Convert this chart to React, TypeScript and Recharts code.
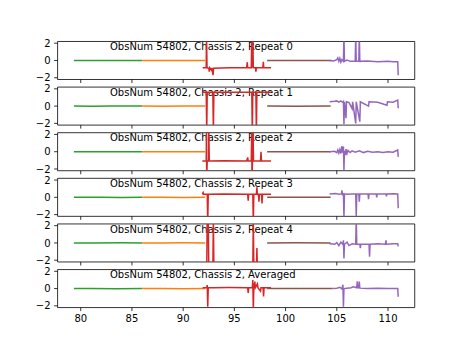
import React from 'react';
import { LineChart, Line, XAxis, YAxis, ReferenceArea } from 'recharts';

// ---------- data ----------
const labels = [
  'ObsNum 54802, Chassis 2, Repeat 0',
  'ObsNum 54802, Chassis 2, Repeat 1',
  'ObsNum 54802, Chassis 2, Repeat 2',
  'ObsNum 54802, Chassis 2, Repeat 3',
  'ObsNum 54802, Chassis 2, Repeat 4',
  'ObsNum 54802, Chassis 2, Averaged',
];
const xTicks = [80, 85, 90, 95, 100, 105, 110];
const yTicks = [-2, 0, 2];
const xDomain = [77.74, 112.61];
const yDomain = [-2.2, 2.2];

const green0 = [[79.33, 0], [81, 0.01], [83, -0.01], [84.5, 0.01], [86.0, 0]];
const orange0 = [[86.0, 0], [88, 0.01], [90, -0.01], [92.15, 0]];
const red0 = [[91.9, -0.85], [92.25, -0.85], [92.28, 3], [92.33, -0.85], [92.5, -0.9], [92.55, -1.3], [92.6, -0.85], [92.75, -1.1], [92.8, -0.85], [92.92, -1.7], [92.97, -0.9], [94.5, -0.85], [96.2, -0.85], [96.26, -0.2], [96.3, -0.85], [96.65, -0.85], [96.7, 3], [96.75, -0.85], [96.8, 3], [96.85, -0.85], [97.07, -0.85], [97.1, -1.3], [97.15, -0.85], [97.78, -0.85], [97.83, -0.15], [97.87, -0.85], [98.58, -0.85]];
const brown0 = [[98.2, 0], [101, 0.01], [104.5, 0]];
const purple0 = [[104.3, 0], [104.7, -0.05], [105.0, 0.1], [105.1, 0.3], [105.2, -0.1], [105.3, 0.25], [105.4, -0.2], [105.5, 0.1], [105.65, -0.1], [105.7, 3], [105.75, -0.1], [106.0, 0.05], [106.3, -0.1], [106.8, -0.1], [106.85, 3], [106.9, -0.1], [107.15, -0.1], [107.2, 3], [107.25, -0.1], [108, -0.05], [109, -0.15], [110, -0.1], [110.5, -0.15], [110.95, -0.15], [111.0, -1.7]];

const green1 = [[79.33, 0], [81, -0.01], [83, 0.01], [86.0, 0]];
const orange1 = [[86.0, 0], [88, -0.01], [90, 0.01], [92.15, 0]];
const red1 = [[91.9, 1.6], [92.25, 1.6], [92.3, -3], [92.35, 1.6], [92.9, 1.6], [92.95, -3], [93.0, 1.6], [96.7, 1.6], [96.75, -3], [96.8, 1.6], [97.1, 1.6], [97.15, -3], [97.2, 1.6], [98.58, 1.6]];
const brown1 = [[98.2, 0], [101, -0.01], [104.4, 0]];
const purple1 = [[104.3, 0.5], [104.8, 0.55], [105.0, 0.6], [105.2, 0.45], [105.4, 0.6], [105.6, 0.4], [105.65, 0.5], [105.7, -2.1], [105.75, 0.5], [105.9, -1.4], [105.95, 0.5], [106.2, 0.4], [106.5, -0.3], [106.55, 0.5], [106.85, -2.0], [106.9, 0.5], [107.25, -1.8], [107.3, 0.5], [108.1, 0.0], [108.15, 0.5], [109.0, 0.45], [109.9, 0.1], [109.95, 0.5], [110.5, 0.45], [110.95, 0.7], [111.0, -0.25]];

const green2 = [[79.33, 0], [81, 0.01], [84, -0.01], [86.0, 0]];
const orange2 = [[86.0, 0], [88.5, 0.01], [90.5, -0.01], [92.15, 0]];
const red2 = [[91.87, -1.08], [92.25, -1.08], [92.28, 3], [92.3, -3], [92.35, -1.08], [92.48, -1.08], [92.5, 3], [92.55, -1.08], [94, -1.05], [96.2, -1.08], [96.3, -0.65], [96.35, -1.08], [96.65, -1.08], [96.7, 3], [96.72, -3], [96.77, -1.08], [96.82, 3], [96.87, -1.08], [97.55, -1.08], [97.6, 0.0], [97.65, -1.08], [98.58, -1.08]];
const brown2 = [[98.2, 0], [101, 0.01], [104.4, 0]];
const purple2 = [[104.3, 0], [104.8, 0.05], [105.0, -0.1], [105.1, 0.2], [105.2, -0.15], [105.3, 0.25], [105.4, -0.2], [105.5, 0.65], [105.55, -0.1], [105.65, 0.6], [105.7, -2.1], [105.75, 0.1], [105.85, -0.4], [105.9, 0.3], [106.0, -0.2], [106.1, 0.15], [106.3, -0.1], [106.5, 0.1], [106.8, -0.05], [107.2, 0.1], [107.6, -0.1], [108, 0.05], [108.5, -0.05], [109, 0.0], [109.5, -0.1], [110, 0.0], [110.5, -0.05], [110.95, 0.2], [111.0, -0.6]];

const green3 = [[79.33, 0], [82, 0.01], [84, -0.01], [86.0, 0]];
const orange3 = [[86.0, 0], [88, 0.01], [90, -0.01], [92.15, 0]];
const red3 = [[91.87, 0.35], [91.95, 0.55], [92.0, 0.35], [92.35, 0.35], [92.4, -3], [92.45, 0.35], [94, 0.38], [96.3, 0.35], [96.35, -0.4], [96.4, 0.35], [96.8, 0.35], [96.85, -3], [96.9, 0.35], [97.15, 0.35], [97.2, 1.16], [97.25, 0.35], [97.35, 0.35], [97.4, -0.5], [97.45, 0.35], [97.65, 0.35], [97.7, -0.7], [97.75, 0.35], [98.58, 0.35]];
const brown3 = [[98.2, 0], [101, 0.01], [104.4, 0]];
const purple3 = [[104.3, 0.4], [104.9, 0.45], [105.2, 0.35], [105.45, 0.4], [105.5, 0.8], [105.55, 0.35], [105.65, 0.4], [105.7, -2.3], [105.75, 0.4], [106.0, 0.35], [106.5, 0.4], [106.85, 0.4], [106.9, -2.3], [106.95, 0.4], [107.15, 0.4], [107.2, -0.5], [107.25, 0.4], [108.05, 0.4], [108.1, -0.2], [108.15, 0.4], [108.85, 0.4], [108.9, 0.0], [108.95, 0.4], [109.8, 0.4], [109.85, 0.1], [109.9, 0.4], [110.5, 0.42], [110.95, 0.4], [111.0, -1.27]];

const green4 = [[79.33, 0], [81, -0.01], [84, 0.01], [86.0, 0]];
const orange4 = [[86.0, 0], [88, -0.01], [90, 0.01], [92.15, 0]];
const red4 = [[91.9, -3], [92.3, -3], [92.35, 3], [92.45, 3], [92.5, -3], [92.9, -3], [92.95, 3], [93.0, -3], [96.8, -3], [96.85, 3], [96.9, -3], [97.15, -3], [97.2, -0.6], [97.25, -3], [98.58, -3]];
const brown4 = [[98.2, 0], [101, 0.01], [104.4, 0]];
const purple4 = [[104.3, -0.1], [104.8, -0.15], [105.0, 0.05], [105.2, -0.3], [105.4, 0.1], [105.6, -0.2], [105.65, 0.3], [105.7, -1.8], [105.75, -0.15], [106.0, 0.1], [106.2, -0.3], [106.5, -0.1], [106.85, -0.15], [106.9, 3], [106.95, -0.15], [107.25, -0.15], [107.3, -0.6], [107.35, -0.15], [108.15, -0.15], [108.2, -1.6], [108.25, -0.15], [109, -0.1], [109.75, -0.15], [109.8, 0.3], [109.85, -0.15], [110.5, -0.1], [110.95, -0.1], [111.0, -0.4]];

const green5 = [[79.33, 0], [81, 0.01], [83.5, -0.01], [86.0, 0]];
const orange5 = [[86.0, 0], [88, 0.01], [90, -0.01], [92.15, 0]];
const red5 = [[91.9, 0.1], [92.3, 0.1], [92.35, 0.4], [92.4, -2.1], [92.45, 0.1], [93, 0.1], [94.5, 0.12], [96.3, 0.1], [96.35, -0.5], [96.4, 0.1], [96.75, 0.1], [96.8, 1.0], [96.85, -2.5], [96.9, 0.1], [97.0, 0.8], [97.05, 0.1], [97.25, 0.55], [97.3, 0.1], [97.55, -0.3], [97.6, 0.1], [97.8, 0.1], [97.85, -0.9], [97.9, 0.1], [98.58, 0.1]];
const brown5 = [[98.2, 0], [101, 0.01], [104.6, 0]];
const purple5 = [[104.6, 0], [105.0, 0.05], [105.3, 0.15], [105.5, -0.05], [105.6, 0.45], [105.65, -2.1], [105.7, 0.0], [106.0, 0.05], [106.4, 0.1], [106.6, 0.2], [106.95, 0.1], [107.0, 0.85], [107.05, 0.1], [107.15, 0.1], [107.2, 0.8], [107.25, 0.05], [108, 0.0], [109, 0.05], [110, 0.0], [110.95, 0.0], [111.0, -0.95]];

const panelSeries = [
  [green0, orange0, red0, brown0, purple0],
  [green1, orange1, red1, brown1, purple1],
  [green2, orange2, red2, brown2, purple2],
  [green3, orange3, red3, brown3, purple3],
  [green4, orange4, red4, brown4, purple4],
  [green5, orange5, red5, brown5, purple5],
];

// ---------- style ----------
const colors = ['#2ca02c', '#ff7f0e', '#d62728', '#8c564b', '#9467bd'];
const FONT = '"DejaVu Sans", sans-serif';
const W = 461;
const H = 346;
const LEFT = 57.6;
const RIGHT = 414.72;
const TOP = 41.47;
const BOTTOM = 307.58;
const PANEL_H = (BOTTOM - TOP) / 7;
const GAP = PANEL_H * 0.2;
const Y_AXIS_W = 40;

const toPts = (arr: number[][]) => arr.map(([x, y]) => ({ x, y }));
const fmtY = (v: number) => (v < 0 ? '\u2212' + Math.abs(v) : String(v));

function Panel({ idx }: { idx: number }) {
  const top = TOP + idx * (PANEL_H + GAP);
  const bottom = top + PANEL_H;
  const isLast = idx === 5;
  const xAxisH = isLast ? 30 : 10;
  const tickStyle = { fill: '#000', fontSize: 10, fontFamily: FONT };
  return (
    <div style={{ position: 'absolute', left: 0, top: 0 }}>
      <LineChart
        width={W}
        height={H}
        margin={{ top, right: W - RIGHT, bottom: H - bottom - xAxisH, left: LEFT - Y_AXIS_W }}
      >
        <XAxis
          type="number"
          dataKey="x"
          domain={xDomain}
          ticks={xTicks}
          interval={0}
          allowDataOverflow
          height={xAxisH}
          tickSize={3.5}
          tickMargin={3.5}
          axisLine={false}
          tickLine={{ stroke: '#000', strokeWidth: 0.8 }}
          tick={tickStyle}
          tickFormatter={isLast ? (v: number) => String(v) : () => ''}
        />
        <YAxis
          type="number"
          dataKey="y"
          domain={yDomain}
          ticks={yTicks}
          interval={0}
          allowDataOverflow
          width={Y_AXIS_W}
          tickSize={3.5}
          tickMargin={3.5}
          axisLine={false}
          tickLine={{ stroke: '#000', strokeWidth: 0.8 }}
          tick={tickStyle}
          tickFormatter={fmtY}
        />
        <text x={110} y={top + 8.7} fontSize={10} fontFamily={FONT} fill="#000">
          {labels[idx]}
        </text>
        {panelSeries[idx].map((s, i) => (
          <Line
            key={i}
            data={toPts(s)}
            dataKey="y"
            type="linear"
            stroke={colors[i]}
            strokeWidth={1.5}
            dot={false}
            activeDot={false}
            isAnimationActive={false}
          />
        ))}
        <ReferenceArea
          x1={xDomain[0]}
          x2={xDomain[1]}
          y1={yDomain[0]}
          y2={yDomain[1]}
          fill="none"
          fillOpacity={0}
          stroke="#000"
          strokeWidth={0.8}
          ifOverflow="visible"
        />
      </LineChart>
    </div>
  );
}

export default function App() {
  return (
    <div style={{ position: 'absolute', left: 0, top: 0, width: W, height: H, background: '#fff' }}>
      {[0, 1, 2, 3, 4, 5].map((i) => (
        <Panel key={i} idx={i} />
      ))}
    </div>
  );
}
